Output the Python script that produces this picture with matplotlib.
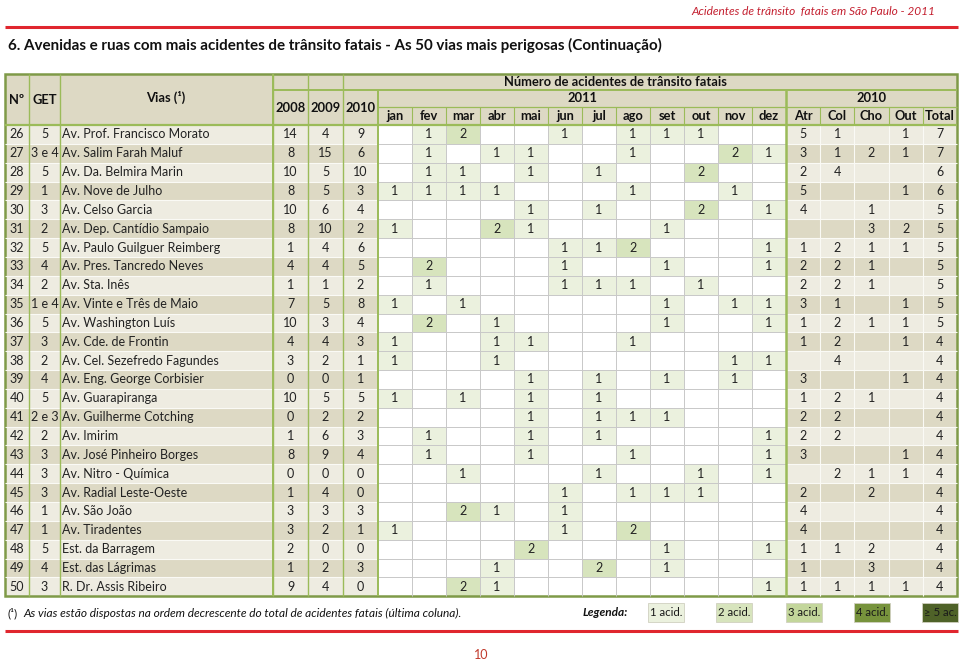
import numpy as np
import matplotlib.pyplot as plt
from matplotlib.patches import Rectangle

plt.rcParams['font.family'] = ['Lato', 'DejaVu Sans']

# ---- data -------------------------------------------------------------
numero = list(range(26, 51))
get = ['5', '3 e 4', '5', '1', '3', '2', '5', '4', '2', '1 e 4', '5', '3', '2',
       '4', '5', '2 e 3', '2', '3', '3', '3', '1', '1', '5', '4', '3']
vias = ['Av. Prof. Francisco Morato', 'Av. Salim Farah Maluf', 'Av. Da. Belmira Marin',
        'Av. Nove de Julho', 'Av. Celso Garcia', 'Av. Dep. Cantídio Sampaio',
        'Av. Paulo Guilguer Reimberg', 'Av. Pres. Tancredo Neves', 'Av. Sta. Inês',
        'Av. Vinte e Três de Maio', 'Av. Washington Luís', 'Av. Cde. de Frontin',
        'Av. Cel. Sezefredo Fagundes', 'Av. Eng. George Corbisier', 'Av. Guarapiranga',
        'Av. Guilherme Cotching', 'Av. Imirim', 'Av. José Pinheiro Borges',
        'Av. Nitro - Química', 'Av. Radial Leste-Oeste', 'Av. São João',
        'Av. Tiradentes', 'Est. da Barragem', 'Est. das Lágrimas', 'R. Dr. Assis Ribeiro']
anos = ['2008', '2009', '2010']
a2008 = [14, 8, 10, 8, 10, 8, 1, 4, 1, 7, 10, 4, 3, 0, 10, 0, 1, 8, 0, 1, 3, 3, 2, 1, 9]
a2009 = [4, 15, 5, 5, 6, 10, 4, 4, 1, 5, 3, 4, 2, 0, 5, 2, 6, 9, 0, 4, 3, 2, 0, 2, 4]
a2010 = [9, 6, 10, 3, 4, 2, 6, 5, 2, 8, 4, 3, 1, 1, 5, 2, 3, 4, 0, 0, 3, 1, 0, 3, 0]

meses = ['jan', 'fev', 'mar', 'abr', 'mai', 'jun', 'jul', 'ago', 'set', 'out', 'nov', 'dez']
# acidentes por mes em 2011 (0 = celula vazia)
m2011 = [
    [0, 1, 2, 0, 0, 1, 0, 1, 1, 1, 0, 0],
    [0, 1, 0, 1, 1, 0, 0, 1, 0, 0, 2, 1],
    [0, 1, 1, 0, 1, 0, 1, 0, 0, 2, 0, 0],
    [1, 1, 1, 1, 0, 0, 0, 1, 0, 0, 1, 0],
    [0, 0, 0, 0, 1, 0, 1, 0, 0, 2, 0, 1],
    [1, 0, 0, 2, 1, 0, 0, 0, 1, 0, 0, 0],
    [0, 0, 0, 0, 0, 1, 1, 2, 0, 0, 0, 1],
    [0, 2, 0, 0, 0, 1, 0, 0, 1, 0, 0, 1],
    [0, 1, 0, 0, 0, 1, 1, 1, 0, 1, 0, 0],
    [1, 0, 1, 0, 0, 0, 0, 0, 1, 0, 1, 1],
    [0, 2, 0, 1, 0, 0, 0, 0, 1, 0, 0, 1],
    [1, 0, 0, 1, 1, 0, 0, 1, 0, 0, 0, 0],
    [1, 0, 0, 1, 0, 0, 0, 0, 0, 0, 1, 1],
    [0, 0, 0, 0, 1, 0, 1, 0, 1, 0, 1, 0],
    [1, 0, 1, 0, 1, 0, 1, 0, 0, 0, 0, 0],
    [0, 0, 0, 0, 1, 0, 1, 1, 1, 0, 0, 0],
    [0, 1, 0, 0, 1, 0, 1, 0, 0, 0, 0, 1],
    [0, 1, 0, 0, 1, 0, 0, 1, 0, 0, 0, 1],
    [0, 0, 1, 0, 0, 0, 1, 0, 0, 1, 0, 1],
    [0, 0, 0, 0, 0, 1, 0, 1, 1, 1, 0, 0],
    [0, 0, 2, 1, 0, 1, 0, 0, 0, 0, 0, 0],
    [1, 0, 0, 0, 0, 1, 0, 2, 0, 0, 0, 0],
    [0, 0, 0, 0, 2, 0, 0, 0, 1, 0, 0, 1],
    [0, 0, 0, 1, 0, 0, 2, 0, 1, 0, 0, 0],
    [0, 0, 2, 1, 0, 0, 0, 0, 0, 0, 0, 1],
]
tipos = ['Atr', 'Col', 'Cho', 'Out', 'Total']
t_atr = [5, 3, 2, 5, 4, 0, 1, 2, 2, 3, 1, 1, 0, 3, 1, 2, 2, 3, 0, 2, 4, 4, 1, 1, 1]
t_col = [1, 1, 4, 0, 0, 0, 2, 2, 2, 1, 2, 2, 4, 0, 2, 2, 2, 0, 2, 0, 0, 0, 1, 0, 1]
t_cho = [0, 2, 0, 0, 1, 3, 1, 1, 1, 0, 1, 0, 0, 0, 1, 0, 0, 0, 1, 2, 0, 0, 2, 3, 1]
t_out = [1, 1, 0, 1, 0, 2, 1, 0, 0, 1, 1, 1, 0, 1, 0, 0, 0, 1, 1, 0, 0, 0, 0, 0, 1]
total = [7, 7, 6, 6, 5, 5, 5, 5, 5, 5, 5, 4, 4, 4, 4, 4, 4, 4, 4, 4, 4, 4, 4, 4, 4]

legenda = ['1 acid.', '2 acid.', '3 acid.', '4 acid.', '≥ 5 ac.']

# ---- style ------------------------------------------------------------
c_light = '#EEECE1'
c_dark = '#DDD9C4'
c_head = '#DDD9C4'
c_green = '#9BBB59'
c_green_dk = '#7F9A48'
c_grid = '#C8C8C8'
c_red = '#E0262E'
level_colors = ['#FFFFFF', '#EBF1DE', '#D7E4BD', '#C3D69B', '#77933C', '#4F6228']

x_left = [5, 29, 60, 273, 308, 343, 378]
x_mes = np.linspace(378, 786, 13)
x_tipo = np.linspace(786, 957, 6)
y_top, y_h1, y_h2, y_h3 = 74, 90, 107, 125
row_h = 18.85
n = len(numero)
y_rows = y_h3 + row_h * np.arange(n + 1)

fig = plt.figure(figsize=(9.6, 6.61), dpi=100)
ax = fig.add_axes([0, 0, 1, 1])
ax.set_xlim(0, 960)
ax.set_ylim(661, 0)
ax.axis('off')

txt = dict(fontsize=9.0, color='#222222', va='center')
hdr = dict(fontsize=9.3, color='#111111', va='center', ha='center', fontweight='bold')

# page header
ax.text(935, 11, 'Acidentes de trânsito  fatais em São Paulo - 2011', ha='right', va='center',
        fontsize=8.6, style='italic', color='#C42030')
ax.plot([5, 958], [27, 27], color=c_red, lw=2.2, solid_capstyle='butt')
ax.text(8, 45, '6. Avenidas e ruas com mais acidentes de trânsito fatais - As 50 vias mais '
        'perigosas (Continuação)', ha='left', va='center', fontsize=10.9, fontweight='bold',
        color='#111111')

# header background
ax.add_patch(Rectangle((5, y_top), 952, y_h3 - y_top, facecolor=c_head, edgecolor='none'))
ax.text(17, (y_top + y_h3) / 2, 'Nº', **hdr)
ax.text(44.5, (y_top + y_h3) / 2, 'GET', **hdr)
ax.text(166, (y_top + y_h3) / 2 - 2, 'Vias (¹)', **hdr)
ax.text(615, (y_top + y_h1) / 2, 'Número de acidentes de trânsito fatais', **hdr)
for i, a in enumerate(anos):
    ax.text((x_left[i + 3] + x_left[i + 4]) / 2, (y_h1 + y_h3) / 2, a, **hdr)
ax.text((x_mes[0] + x_mes[-1]) / 2, (y_h1 + y_h2) / 2, '2011', **hdr)
ax.text((x_tipo[0] + x_tipo[-1]) / 2, (y_h1 + y_h2) / 2, '2010', **hdr)
for i, m in enumerate(meses):
    ax.text((x_mes[i] + x_mes[i + 1]) / 2, (y_h2 + y_h3) / 2, m, **hdr)
for i, t in enumerate(tipos):
    ax.text((x_tipo[i] + x_tipo[i + 1]) / 2, (y_h2 + y_h3) / 2, t, **hdr)

# body
for r in range(n):
    y0, y1 = y_rows[r], y_rows[r + 1]
    yc = (y0 + y1) / 2
    bg = c_light if r % 2 == 0 else c_dark
    ax.add_patch(Rectangle((5, y0), 373, row_h, facecolor=bg, edgecolor='none'))
    ax.add_patch(Rectangle((786, y0), 171, row_h, facecolor=bg, edgecolor='none'))
    for j, v in enumerate(m2011[r]):
        ax.add_patch(Rectangle((x_mes[j], y0), x_mes[j + 1] - x_mes[j], row_h,
                               facecolor=level_colors[min(v, 5)], edgecolor='none'))
        if v:
            ax.text((x_mes[j] + x_mes[j + 1]) / 2, yc, str(v), ha='center', **txt)
    ax.text(17, yc, str(numero[r]), ha='center', **txt)
    ax.text(44.5, yc, get[r], ha='center', **txt)
    ax.text(62, yc, vias[r], ha='left', **txt)
    for j, col in enumerate([a2008, a2009, a2010]):
        ax.text((x_left[j + 3] + x_left[j + 4]) / 2, yc, str(col[r]), ha='center', **txt)
    for j, col in enumerate([t_atr, t_col, t_cho, t_out, total]):
        if col[r]:
            ax.text((x_tipo[j] + x_tipo[j + 1]) / 2, yc, str(col[r]), ha='center', **txt)

y_bot = y_rows[-1]
# row separators
ax.hlines(y_rows[1:-1], 5, 378, color='#FAFAF5', lw=0.8)
ax.hlines(y_rows[1:-1], 378, 786, color=c_grid, lw=0.7)
ax.hlines(y_rows[1:-1], 786, 957, color='#FAFAF5', lw=0.8)
ax.vlines(x_mes[1:-1], y_h3, y_bot, color=c_grid, lw=0.7)
ax.vlines(x_tipo[1:-1], y_h3, y_bot, color='#FAFAF5', lw=0.8)

# green rules
ax.vlines(x_left[1:6], y_top, y_bot, color=c_green, lw=1.0)
ax.vlines(x_left[3], y_top, y_bot, color=c_green, lw=1.4)
ax.vlines(378, y_h1, y_bot, color=c_green, lw=1.4)
ax.vlines(786, y_h1, y_bot, color=c_green, lw=1.8)
ax.vlines(x_mes[1:-1], y_h2, y_h3, color=c_green, lw=0.8)
ax.vlines(x_tipo[1:-1], y_h2, y_h3, color=c_green, lw=0.8)
ax.hlines(y_h1, x_left[3], 957, color=c_green, lw=1.4)
ax.hlines(y_h2, 378, 957, color=c_green, lw=0.9)
ax.hlines(y_h3, 5, 957, color=c_green, lw=1.6)
ax.add_patch(Rectangle((5, y_top), 952, y_bot - y_top, facecolor='none',
                       edgecolor=c_green_dk, lw=1.8))

# footnote and legend
ax.text(8, 613, '(¹)', ha='left', va='center', fontsize=8.6, color='#111111')
ax.text(23, 613, 'As vias estão dispostas na ordem decrescente do total de acidentes fatais '
        '(última coluna).', ha='left', va='center', fontsize=8.6, style='italic',
        color='#111111')
ax.text(583, 613, 'Legenda:', ha='left', va='center', fontsize=8.6, style='italic',
        fontweight='bold', color='#111111')
leg_x = [648, 716, 786, 854, 922]
for i, lab in enumerate(legenda):
    ax.add_patch(Rectangle((leg_x[i], 603), 36, 19, facecolor=level_colors[i + 1],
                           edgecolor='#D0D0C0', lw=0.6))
    ax.text(leg_x[i] + 18, 613, lab, ha='center', va='center', fontsize=8.2,
            color='#1a1a1a')
ax.plot([5, 958], [631, 631], color=c_red, lw=2.2, solid_capstyle='butt')
ax.text(481, 655, '10', ha='center', va='center', fontsize=9, color='#C0392B')

fig.savefig('out.png', dpi=100)
